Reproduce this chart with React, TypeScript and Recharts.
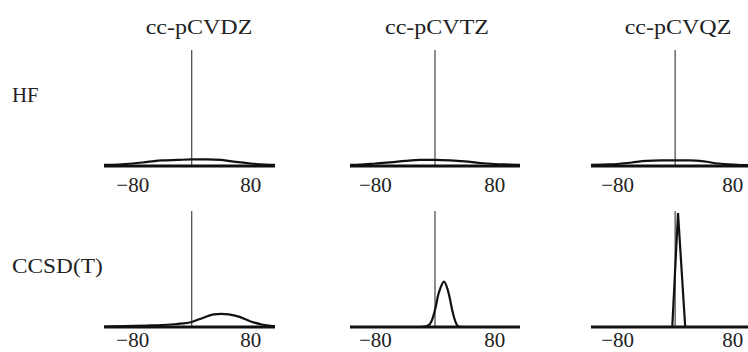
import React from "react"
import { LineChart, Line, XAxis, YAxis, ReferenceLine } from "recharts"

// basis sets (columns) and methods (rows)
const BASIS_SETS = ["cc-pCVDZ", "cc-pCVTZ", "cc-pCVQZ"]
const METHODS = ["HF", "CCSD(T)"]
const X_TICKS = [-80, 80]

// HF: broad, low distributions
const HF_X = [-120, -100, -80, -60, -40, -20, 0, 20, 40, 60, 80, 100, 120]
const HF_DZ = [1, 1.5, 2.5, 4, 5.5, 6, 6.5, 6.5, 6, 4, 2.5, 1.5, 1]
const HF_TZ = [1, 1.5, 2.5, 3.5, 5, 6, 6, 5.5, 4.5, 3, 2, 1.5, 1]
const HF_QZ = [1, 1.5, 2, 3.5, 5, 5.5, 5.5, 5.5, 4.5, 2.5, 1.5, 1, 1]

// CCSD(T): narrowing with basis size
const CC_DZ_X = [-120, -90, -60, -40, -20, 0, 15, 30, 40, 50, 65, 80, 95, 110, 120]
const CC_DZ_Y = [0.5, 1, 1.5, 2, 3, 5, 9, 12.5, 13, 12.5, 10, 5.5, 2.5, 1, 0.5]
const CC_TZ_X = [-120, -20, -14, -8, -3, 1, 4, 7, 12, 17, 20, 23, 27, 30, 35, 120]
const CC_TZ_Y = [0, 0, 0.3, 2, 9, 20, 31, 38, 45, 37, 28, 17, 6, 1.5, 0, 0]
const CC_QZ_X = [-120, -4, 4, 14, 120]
const CC_QZ_Y = [0, 0, 113, 0, 0]

const FONT = '"Liberation Serif", "DejaVu Serif", serif'
const PLOT_H = 116
const AXIS_H = 36

const COLS = [
  { left: 104, width: 171, domain: [-119, 113], title: 199 },
  { left: 350, width: 170, domain: [-114, 114], title: 437 },
  { left: 591, width: 169, domain: [-117, 118], title: 678 },
]
const ROW_TOPS = [50, 211]
const LABEL_OFFSETS = [19, 13]

const zip = (xs: number[], ys: number[]) => xs.map((x, i) => ({ x, y: ys[i] }))

const PANELS = [
  [zip(HF_X, HF_DZ), zip(HF_X, HF_TZ), zip(HF_X, HF_QZ)],
  [zip(CC_DZ_X, CC_DZ_Y), zip(CC_TZ_X, CC_TZ_Y), zip(CC_QZ_X, CC_QZ_Y)],
]

const fmt = (v: number) => (v < 0 ? `\u2212${Math.abs(v)}` : `${v}`)

function Panel({ data, col, top, linear, labelOffset }: any) {
  const renderTick = (p: any) => (
    <text
      x={p.x}
      y={PLOT_H + labelOffset}
      dy="0.35em"
      textAnchor="middle"
      fontFamily={FONT}
      fontSize={21}
      fill="#222"
    >
      {fmt(p.payload.value)}
    </text>
  )
  return (
    <div style={{ position: "absolute", left: col.left, top }}>
      <LineChart
        width={col.width}
        height={PLOT_H + AXIS_H}
        data={data}
        margin={{ top: 0, right: 0, bottom: 0, left: 0 }}
      >
        <XAxis
          type="number"
          dataKey="x"
          domain={col.domain}
          allowDataOverflow
          ticks={X_TICKS}
          interval={0}
          tickLine={false}
          axisLine={{ stroke: "#111", strokeWidth: 3 }}
          height={AXIS_H}
          tick={renderTick}
        />
        <YAxis hide domain={[0, 115]} allowDataOverflow />
        <ReferenceLine x={0} stroke="#444" strokeWidth={1.2} />
        <Line
          dataKey="y"
          type={linear ? "linear" : "monotone"}
          stroke="#111"
          strokeWidth={2.2}
          dot={false}
          isAnimationActive={false}
        />
      </LineChart>
    </div>
  )
}

function TextLabel({ text, x, cy, size, sx, align }: any) {
  const centered = align === "center"
  return (
    <div
      style={{
        position: "absolute",
        left: centered ? x - 150 : x,
        width: centered ? 300 : 200,
        top: cy - size / 2,
        lineHeight: `${size}px`,
        fontSize: size,
        fontFamily: FONT,
        color: "#222",
        textAlign: centered ? "center" : "left",
        whiteSpace: "nowrap",
        transform: `scaleX(${sx})`,
        transformOrigin: centered ? "center" : "left",
      }}
    >
      {text}
    </div>
  )
}

export default function App() {
  return (
    <div
      style={{
        position: "absolute",
        left: 0,
        top: 0,
        width: 748,
        height: 352,
        overflow: "hidden",
        background: "#fff",
      }}
    >
      {BASIS_SETS.map((b, i) => (
        <TextLabel key={b} text={b} x={COLS[i].title} cy={27} size={20} sx={1.2} align="center" />
      ))}
      <TextLabel text={METHODS[0]} x={12} cy={95} size={22} sx={0.95} />
      <TextLabel text={METHODS[1]} x={12} cy={266} size={22} sx={1.06} />
      {PANELS.map((row, r) =>
        row.map((data, c) => (
          <Panel
            key={`${r}-${c}`}
            data={data}
            col={COLS[c]}
            top={ROW_TOPS[r]}
            linear={r === 1 && c === 2}
            labelOffset={LABEL_OFFSETS[r]}
          />
        ))
      )}
    </div>
  )
}
